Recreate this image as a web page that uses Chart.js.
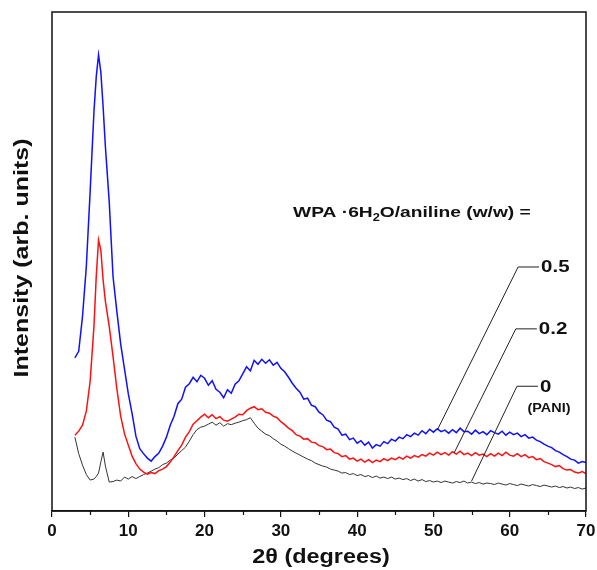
<!DOCTYPE html>
<html>
<head>
<meta charset="utf-8">
<script src="https://cdn.jsdelivr.net/npm/chart.js@4.4.0/dist/chart.umd.min.js"></script>
<style>
  html, body { margin: 0; padding: 0; background: #fff; }
  #wrap { width: 597px; height: 570px; }
</style>
</head>
<body>
<div id="wrap"><canvas id="xrdChart"></canvas></div>
<script>
// 2-theta positions (degrees)
var angle = [3, 3.5, 4, 4.5, 5, 5.5, 5.8, 6.1, 6.4, 6.7, 7, 7.5, 8, 8.5, 9, 9.5,
  10, 10.5, 11, 11.5, 12, 12.5, 13, 13.5, 14, 14.5,
  15, 15.5, 16, 16.5, 17, 17.5, 18, 18.5, 19, 19.5,
  20, 20.5, 21, 21.5, 22, 22.5, 23, 23.5, 24, 24.5,
  25, 25.5, 26, 26.5, 27, 27.5, 28, 28.5, 29, 29.5,
  30, 30.5, 31, 31.5, 32, 32.5, 33, 33.5, 34, 34.5,
  35, 35.5, 36, 36.5, 37, 37.5, 38, 38.5, 39, 39.5,
  40, 40.5, 41, 41.5, 42, 42.5, 43, 43.5, 44, 44.5,
  45, 45.5, 46, 46.5, 47, 47.5, 48, 48.5, 49, 49.5,
  50, 50.5, 51, 51.5, 52, 52.5, 53, 53.5, 54, 54.5,
  55, 55.5, 56, 56.5, 57, 57.5, 58, 58.5, 59, 59.5,
  60, 60.5, 61, 61.5, 62, 62.5, 63, 63.5, 64, 64.5,
  65, 65.5, 66, 66.5, 67, 67.5, 68, 68.5, 69, 69.5,
  70];

// WPA.6H2O/aniline = 0.5
var ratio05 = [30.7, 32, 39, 49, 64, 80, 87, 91.4, 88, 81, 73, 62, 47, 40, 33.5, 28.5,
  23.5, 19.5, 15, 12.5, 11.5, 10.6, 10.0, 10.9, 11.6, 13,
  14.8, 17.2, 19, 21.5, 22.4, 24.8, 25.5, 26.8, 25.9, 27.2,
  26.6, 25.2, 26.1, 24.4, 23.8, 22.7, 24.3, 23.6, 25.4, 26.1,
  27.5, 28.9, 28.1, 30.2, 29.4, 30.4, 29.6, 30.3, 29.2, 29.8,
  28.6, 27.9, 26.8, 25.6, 24.6, 23.8, 22.4, 22.6, 21.2, 20.9,
  19.8, 19.3, 18.2, 17.9, 16.8, 16.4, 15.2, 15.4, 14.3, 14.6,
  13.6, 14.1, 13.2, 13.8, 12.6, 13.3, 13.0, 13.9, 13.5, 14.4,
  14.0, 14.8, 14.5, 15.3, 14.9, 15.6, 15.2, 16.1, 15.5, 16.4,
  15.8, 16.5, 15.9, 16.2, 15.6, 16.3, 15.7, 16.6, 15.9, 16.0,
  15.4, 16.2, 15.5, 15.9, 15.3, 16.1, 15.7, 15.4, 16.0, 15.2,
  15.8, 15.3, 15.6, 14.9, 15.3, 14.6, 14.8, 14.2, 13.9, 13.4,
  13.0, 12.7, 12.1, 11.8, 11.3, 10.9, 10.4, 10.2, 9.6, 9.9,
  9.7];

// ratio = 0.2
var ratio02 = [15.2, 16, 17.2, 20, 26, 37, 47, 54.3, 52.3, 46.3, 42, 37, 31, 24.5, 19, 15.5,
  13.2, 11, 9.5, 8.4, 7.8, 7.4, 7.7, 7.5, 8.1, 8.4,
  8.9, 9.8, 10.9, 12.1, 13.2, 14.8, 15.9, 17.4, 18.1, 18.8,
  19.4, 18.7, 19.3, 18.5, 18.9, 18.2, 18.0, 18.4, 18.8, 19.4,
  19.3, 20.1, 20.6, 20.9, 20.3, 20.5, 19.8, 19.6, 19.0, 18.7,
  17.9, 17.3, 16.6, 16.1, 15.3, 15.0, 14.4, 14.5, 13.8, 13.7,
  13.1, 12.9, 12.3, 12.4, 11.7, 11.5, 10.9, 11.1, 10.4, 10.6,
  10.0, 10.4, 9.8, 10.3, 9.7, 10.2, 9.9, 10.5, 10.1, 10.6,
  10.3, 10.8, 10.4, 11.0, 10.6, 11.1, 10.8, 11.3, 11.0, 11.6,
  11.2, 11.8, 11.3, 11.7, 11.2, 11.9, 11.4, 12.0, 11.3, 11.6,
  11.1, 11.7, 11.2, 11.4, 10.9, 11.5, 11.0, 11.6, 11.1, 11.8,
  11.2, 11.0, 11.5, 10.9, 11.3, 10.7, 10.9, 10.3, 10.5, 9.9,
  9.6, 9.3, 8.9, 9.1, 8.5, 8.2, 8.3, 7.8, 7.6, 7.9,
  7.5];

// ratio = 0 (PANI)
var ratio0 = [14.8, 11.5, 9.2, 7.3, 6.2, 6.4, 6.9, 7.6, 9.8, 11.8, 9.0, 5.8, 5.9, 6.2, 6.0, 6.8,
  6.4, 6.9, 6.5, 6.9, 7.3, 7.6, 8.0, 8.4, 8.7, 9.3,
  9.6, 10.2, 10.6, 11.4, 12.1, 12.8, 14.0, 15.3, 16.3, 16.8,
  17.0, 17.4, 17.8, 17.2, 17.7, 17.0, 17.5, 17.3, 17.6, 17.8,
  18.1, 18.3, 18.7, 17.6, 16.6, 16.0, 15.4, 15.1, 14.5, 14.0,
  13.4, 13.0, 12.5, 12.0, 11.6, 11.2, 10.8, 10.4, 10.1, 9.6,
  9.3, 9.0, 8.8, 8.4, 8.2, 8.0, 7.6, 7.7, 7.3, 7.5,
  7.1, 7.3, 6.9, 7.1, 6.7, 7.0, 6.6, 6.8, 6.5, 6.8,
  6.4, 6.6, 6.3, 6.5, 6.1, 6.4, 6.0, 6.3, 5.9, 6.1,
  5.8, 6.0, 5.7, 6.0, 5.8, 5.6, 5.9, 5.7, 6.0, 5.6,
  5.8, 5.5, 5.7, 5.4, 5.6, 5.5, 5.3, 5.6, 5.4, 5.2,
  5.5, 5.3, 5.1, 5.4, 5.2, 5.0, 5.3, 5.1, 4.9, 5.2,
  5.0, 4.8, 5.0, 4.7, 4.9, 4.6, 4.8, 4.5, 4.7, 4.4,
  4.6];

var xTicks = [0, 10, 20, 30, 40, 50, 60, 70];
var ratioLabels = ["0.5", "0.2", "0"];

function toXY(ys) {
  return ys.map(function (v, i) { return { x: angle[i], y: v }; });
}

var FONT = "'Liberation Sans', Arial, sans-serif";

// leader lines: corner point and end point on the curve, in data units
var leaders = [
  { text: ratioLabels[0], corner: [61.1, 48.9], end: [50.5, 16.2] },
  { text: ratioLabels[1], corner: [60.8, 36.5], end: [52.7, 11.6] },
  { text: ratioLabels[2], corner: [60.95, 25.0], end: [55.0, 6.0] }
];

// text drawn a little wider than the font, like the original figure
function wideText(c, txt, x, y, sx) {
  c.save();
  c.translate(x, y);
  c.scale(sx, 1);
  c.fillText(txt, 0, 0);
  c.restore();
  return c.measureText(txt).width * sx;
}

var decor = {
  id: 'decor',
  afterDraw: function (chart) {
    var c = chart.ctx, a = chart.chartArea;
    var xs = chart.scales.x, ys = chart.scales.y;
    c.save();
    c.strokeStyle = '#111';
    c.lineWidth = 1.5;
    c.strokeRect(a.left, a.top, a.right - a.left, a.bottom - a.top);

    // minor ticks
    c.lineWidth = 1.2;
    for (var m = 5; m < 70; m += 10) {
      var px = Math.round(xs.getPixelForValue(m)) + 0.5;
      c.beginPath();
      c.moveTo(px, a.bottom);
      c.lineTo(px, a.bottom + 4);
      c.stroke();
    }

    c.fillStyle = '#111';
    // axis titles
    c.font = 'bold 20px ' + FONT;
    c.textAlign = 'center';
    c.textBaseline = 'middle';
    wideText(c, '2\u03b8 (degrees)', (a.left + a.right) / 2 + 2, 557, 1.17);
    c.save();
    c.translate(22, 258);
    c.rotate(-Math.PI / 2);
    wideText(c, 'Intensity (arb. units)', 0, 0, 1.25);
    c.restore();

    // header text with subscript
    c.textAlign = 'left';
    c.textBaseline = 'alphabetic';
    var sx = 1.28;
    var hx = xs.getPixelForValue(31.6), hy = ys.getPixelForValue(59.0);
    c.font = 'bold 15px ' + FONT;
    hx += wideText(c, 'WPA \u00b76H', hx, hy, sx);
    c.font = 'bold 10px ' + FONT;
    hx += wideText(c, '2', hx, hy + 4, sx);
    c.font = 'bold 15px ' + FONT;
    wideText(c, 'O/aniline (w/w) =', hx, hy, sx);

    // leaders and ratio labels
    c.lineWidth = 1;
    c.strokeStyle = '#222';
    leaders.forEach(function (l) {
      var cx = xs.getPixelForValue(l.corner[0]), cy = ys.getPixelForValue(l.corner[1]);
      var ex = xs.getPixelForValue(l.end[0]), ey = ys.getPixelForValue(l.end[1]);
      c.beginPath();
      c.moveTo(ex, ey);
      c.lineTo(cx, cy);
      c.lineTo(cx + 21, cy);
      c.stroke();
      c.font = 'bold 16px ' + FONT;
      c.textBaseline = 'middle';
      wideText(c, l.text, cx + 23, cy + 1, sx);
    });
    var last = leaders[2];
    c.font = 'bold 12px ' + FONT;
    c.textAlign = 'center';
    wideText(c, '(PANI)', xs.getPixelForValue(last.corner[0]) + 32, ys.getPixelForValue(last.corner[1]) + 22, 1.2);
    c.restore();
  }
};

new Chart(document.getElementById('xrdChart'), {
  type: 'line',
  data: {
    datasets: [
      { label: '0.5', data: toXY(ratio05), borderColor: '#1010ff', borderWidth: 1.5 },
      { label: '0.2', data: toXY(ratio02), borderColor: '#ff1010', borderWidth: 1.5 },
      { label: '0', data: toXY(ratio0), borderColor: '#333333', borderWidth: 1 }
    ]
  },
  options: {
    responsive: true,
    maintainAspectRatio: false,
    animation: false,
    layout: { padding: { left: 52, top: 12, right: 11, bottom: 0 } },
    elements: { point: { radius: 0 }, line: { tension: 0 } },
    plugins: { legend: { display: false }, tooltip: { enabled: false } },
    scales: {
      x: {
        type: 'linear',
        min: 0,
        max: 70,
        afterBuildTicks: function (s) { s.ticks = xTicks.map(function (v) { return { value: v }; }); },
        afterFit: function (s) { s.height = 59; s.paddingLeft = 0; s.paddingRight = 0; },
        grid: { drawOnChartArea: false, drawTicks: true, tickLength: 6, tickColor: '#111', lineWidth: 1.2 },
        border: { display: true, color: '#111', width: 1.5 },
        ticks: { color: '#111', padding: 4, font: { family: FONT, size: 17, weight: 'bold' }, maxRotation: 0 }
      },
      y: {
        display: false,
        min: 0,
        max: 100
      }
    }
  },
  plugins: [decor]
});
</script>
</body>
</html>
